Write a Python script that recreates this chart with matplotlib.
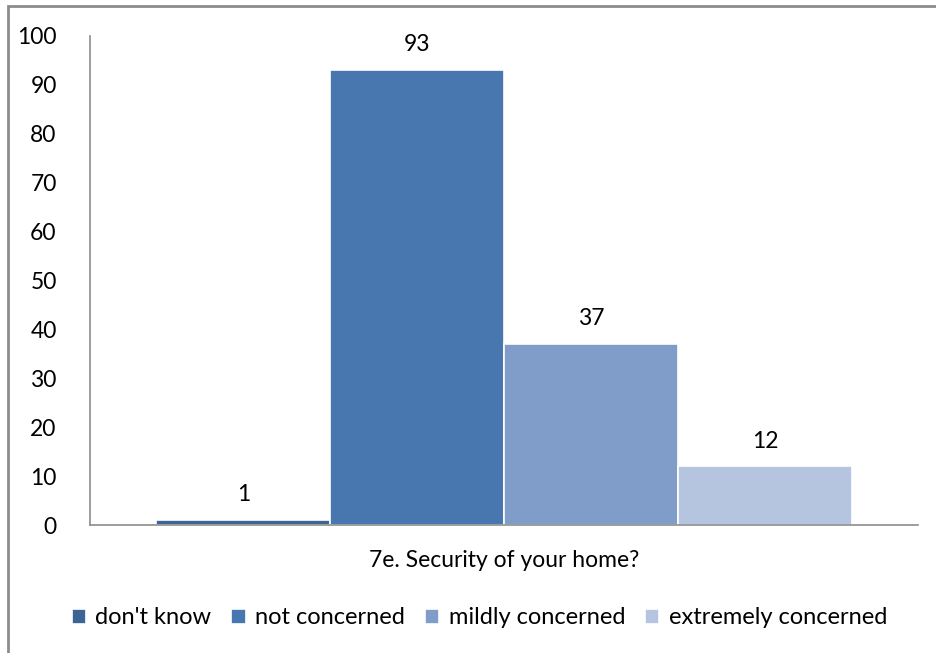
import matplotlib.pyplot as plt
import numpy as np
from matplotlib.patches import Rectangle

plt.rcParams['font.family'] = ['Lato', 'DejaVu Sans']

category = "7e. Security of your home?"
series = ["don't know", "not concerned", "mildly concerned", "extremely concerned"]
values = [1, 93, 37, 12]
colors = ['#3C6494', '#4877B0', '#7F9DC8', '#B5C5E0']

fig = plt.figure(figsize=(9.36, 6.53), dpi=100)
ax = fig.add_axes([0.0962, 0.196, 0.885, 0.749])

# figure border (top and left visible)
fig.add_artist(Rectangle((8 / 936, -0.1), 1.2, 1.1 - 6 / 653, transform=fig.transFigure,
                         fill=False, edgecolor='#8c8c8c', linewidth=2))

n = len(series)
width = 0.21
offsets = (np.arange(n) - (n - 1) / 2) * width
for off, val, col, name in zip(offsets, values, colors, series):
    ax.bar(off, val, width=width, color=col, edgecolor='white', linewidth=1.2, label=name)
    ax.text(off, val + 3, str(val), ha='center', va='bottom', fontsize=16.5)

ax.set_xlim(-0.5, 0.5)
ax.set_ylim(0, 100)
ax.set_yticks(range(0, 101, 10))
ax.set_xticks([0])
ax.set_xticklabels([category])
ax.tick_params(axis='both', length=0, labelsize=16.5)
ax.tick_params(axis='y', pad=24)
ax.tick_params(axis='x', pad=18)
for s in ['top', 'right']:
    ax.spines[s].set_visible(False)
for s in ['left', 'bottom']:
    ax.spines[s].set_color('#8c8c8c')
    ax.spines[s].set_linewidth(1.2)

ax.legend(loc='upper center', bbox_to_anchor=(0.47, -0.125), ncol=4, frameon=False,
          fontsize=17, handlelength=0.6, handleheight=0.6, handletextpad=0.4,
          columnspacing=0.85)

fig.savefig('out.png', dpi=100)
